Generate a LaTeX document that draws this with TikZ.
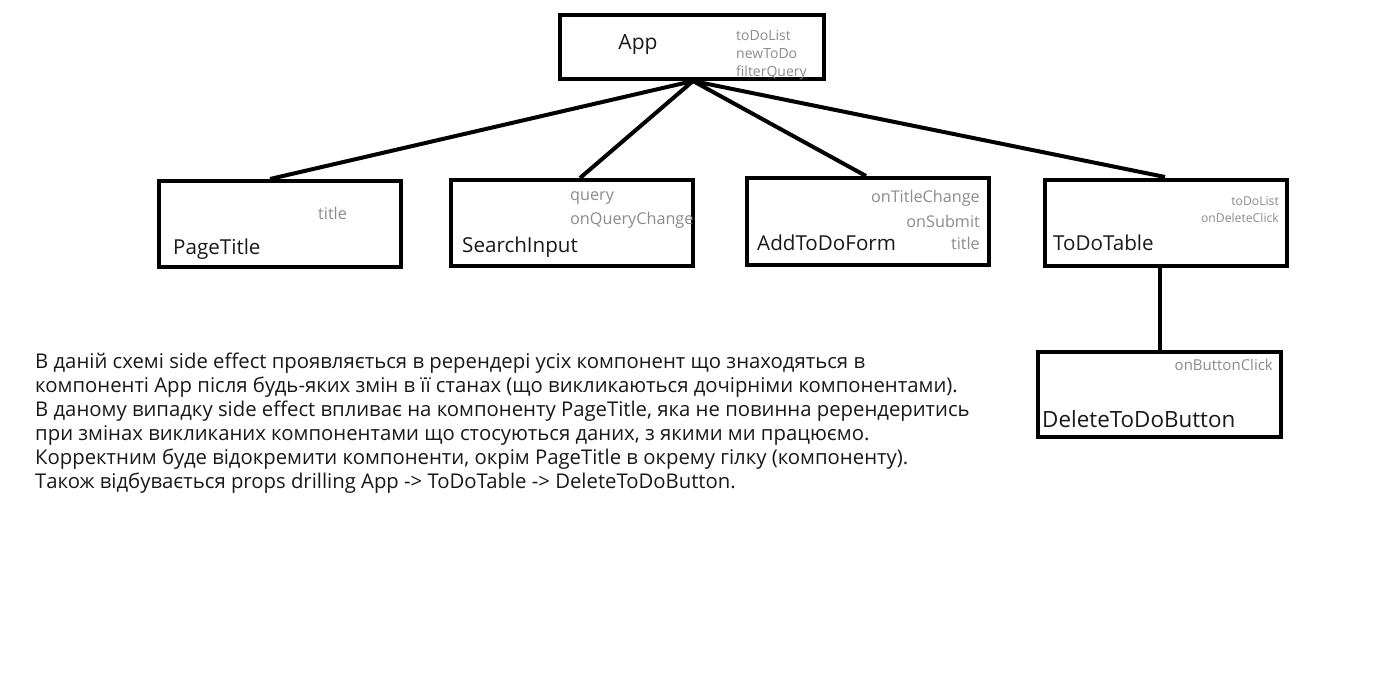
\documentclass[tikz,border=0pt]{standalone}
\usepackage{fontspec}
\setmainfont{Open Sans}
\definecolor{propgray}{HTML}{8C8C8C}
\begin{document}
\begin{tikzpicture}[x=1pt,y=-1pt,
  comp/.style={draw=black, line width=4pt, fill=white, inner sep=0pt},
  link/.style={draw=black, line width=4pt},
  cname/.style={inner sep=0pt, font=\fontsize{20.6}{24}\selectfont, text=black!90},
  prop/.style={inner sep=0pt, font=\fontsize{16.2}{19}\selectfont, text=propgray},
  propa/.style={inner sep=0pt, font=\fontsize{14}{18}\selectfont, text=propgray},
  props/.style={inner sep=0pt, font=\fontsize{12.2}{17}\selectfont, text=propgray}]
\useasboundingbox[fill=white] (0,0) rectangle (1383,698);
% boxes
\node[comp, minimum width=264pt, minimum height=64pt] (app) at (692,47) {};
\node[comp, minimum width=242pt, minimum height=86pt] (pt) at (280,224) {};
\node[comp, minimum width=242pt, minimum height=86pt] (si) at (572,223) {};
\node[comp, minimum width=242pt, minimum height=87pt] (af) at (868,221.5) {};
\node[comp, minimum width=242pt, minimum height=86pt] (tt) at (1166,223) {};
\node[comp, minimum width=243pt, minimum height=85pt] (db) at (1159.5,394.5) {};
% connector anchors
\coordinate (appb) at (693,81);
\coordinate (ptt) at (270,179);
\coordinate (sit) at (580,178);
\coordinate (aft) at (866,176);
\coordinate (ttt) at (1165,177);
\coordinate (ttb) at (1160,268);
\coordinate (dbt) at (1160,351);
\draw[link] (appb) -- (ptt);
\draw[link] (appb) -- (sit);
\draw[link] (appb) -- (aft);
\draw[link] (appb) -- (ttt);
\draw[link] (ttb) -- (dbt);
% App
\node[cname, font=\fontsize{21}{24}\selectfont] (appl) at (638,44) {App};
\node[propa, anchor=west] (p1) at (736,35) {toDoList};
\node[propa, anchor=west] (p2) at (736,54) {newToDo};
\node[propa, anchor=west] (p3) at (736,73) {filterQuery};
% PageTitle
\node[prop, anchor=west] (ptp) at (318,213) {title};
\node[cname, anchor=west] (ptl) at (173,249) {PageTitle};
% SearchInput
\node[prop, anchor=west] (sip1) at (570,198) {query};
\node[prop, anchor=west] (sip2) at (570,220) {onQueryChange};
\node[cname, anchor=west] (sil) at (462,247) {SearchInput};
% AddToDoForm
\node[prop, anchor=east] (afp1) at (980,198) {onTitleChange};
\node[prop, anchor=east] (afp2) at (980,221) {onSubmit};
\node[prop, anchor=east] (afp3) at (980,243) {title};
\node[cname, anchor=west] (afl) at (757,243) {AddToDoForm};
% ToDoTable
\node[props, anchor=east] (ttp1) at (1279,201) {toDoList};
\node[props, anchor=east] (ttp2) at (1279,218) {onDeleteClick};
\node[cname, anchor=west] (ttl) at (1053,243) {ToDoTable};
% DeleteToDoButton
\node[prop, anchor=east, font=\fontsize{15}{18}\selectfont] (dbp) at (1273,365) {onButtonClick};
\node[cname, anchor=west, font=\fontsize{22.4}{26}\selectfont] (dbl) at (1042,419) {DeleteToDoButton};
% paragraph
\node[inner sep=0pt, anchor=north west, align=left, text=black!90,
  font=\fontsize{20.3}{24}\selectfont] (txt) at (35,353) {%
В даній схемі side effect проявляється в ререндері усіх компонент що знаходяться в\\
компоненті App після будь-яких змін в її станах (що викликаються дочірніми компонентами).\\
В даному випадку side effect впливає на компоненту PageTitle, яка не повинна ререндеритись\\
при змінах викликаних компонентами що стосуються даних, з якими ми працюємо.\\
Корректним буде відокремити компоненти, окрім PageTitle в окрему гілку (компоненту).\\
Також відбувається props drilling App -> ToDoTable -> DeleteToDoButton.};
\end{tikzpicture}
\end{document}
